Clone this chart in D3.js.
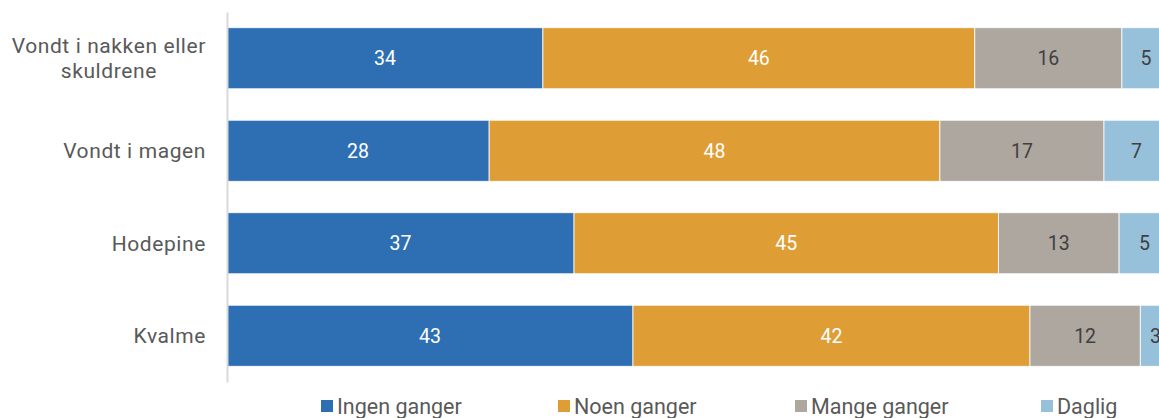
<!DOCTYPE html>
<html><head><meta charset="utf-8">
<script src="https://cdn.jsdelivr.net/npm/d3@7"></script>
<style>
html,body{margin:0;padding:0;background:#fff;overflow:hidden}
svg{display:block}
</style></head>
<body>
<svg id="chart" width="1159" height="418"></svg>
<script>
const categories = ["Vondt i nakken eller skuldrene", "Vondt i magen", "Hodepine", "Kvalme"];
const categoryLines = [["Vondt i nakken eller", "skuldrene"], ["Vondt i magen"], ["Hodepine"], ["Kvalme"]];
const seriesNames = ["Ingen ganger", "Noen ganger", "Mange ganger", "Daglig"];
const ingenGanger = [33.5, 27.8, 36.8, 43.05];
const noenGanger = [45.8, 47.8, 45.0, 42.1];
const mangeGanger = [15.6, 17.4, 12.8, 11.7];
const daglig = [5.1, 6.9, 5.4, 3.2];
const valueLabels = [[34, 46, 16, 5], [28, 48, 17, 7], [37, 45, 13, 5], [43, 42, 12, 3]];
const colors = ["#2e6fb4", "#df9d36", "#ada7a0", "#97c0da"];
const labelColors = ["#ffffff", "#ffffff", "#404040", "#404040"];

const seriesArrays = [ingenGanger, noenGanger, mangeGanger, daglig];
const rows = categories.map((c, i) => {
  const o = {cat: c, idx: i};
  seriesNames.forEach((s, j) => o[s] = seriesArrays[j][i]);
  return o;
});
const stack = d3.stack().keys(seriesNames)(rows);

const svg = d3.select("#chart");
const x = d3.scaleLinear().domain([0, 100]).range([227, 1170]);
const y = d3.scaleBand().domain(categories).range([12, 382]).paddingInner(0.34).paddingOuter(0.17);

const font = "Roboto, 'Noto Sans', sans-serif";

// bars
stack.forEach((layer, j) => {
  const g = svg.append("g");
  g.selectAll("rect").data(layer).join("rect")
    .attr("x", d => x(d[0]))
    .attr("y", d => y(d.data.cat))
    .attr("width", d => x(d[1]) - x(d[0]))
    .attr("height", y.bandwidth())
    .attr("fill", colors[j])
    .attr("stroke", "#ffffff")
    .attr("stroke-width", 0.8);
  g.selectAll("text").data(layer).join("text")
    .attr("x", d => (x(d[0]) + x(d[1])) / 2)
    .attr("y", d => y(d.data.cat) + y.bandwidth() / 2)
    .attr("dy", "0.35em")
    .attr("text-anchor", "middle")
    .attr("font-family", font)
    .attr("font-size", 19.5)
    .attr("fill", labelColors[j])
    .text(d => valueLabels[d.data.idx][j]);
});

// y axis
const yAxis = svg.append("g").attr("transform", "translate(227,0)")
  .call(d3.axisLeft(y).tickSize(0).tickFormat(""));
yAxis.select(".domain").attr("stroke", "#d9d9d9").attr("stroke-width", 2);

const labelRight = 206;
categories.forEach((c, i) => {
  const lines = categoryLines[i];
  const cy = y(c) + y.bandwidth() / 2;
  const lh = 25;
  const t = svg.append("text")
    .attr("text-anchor", "end")
    .attr("font-family", font)
    .attr("font-size", 21)
    .attr("letter-spacing", 0.6)
    .attr("fill", "#595959");
  const spans = lines.map((l, k) => t.append("tspan").attr("x", labelRight)
      .attr("y", cy + (k - (lines.length - 1) / 2) * lh)
      .attr("dy", "0.35em").text(l));
  if (lines.length > 1) {
    const maxW = d3.max(spans, s => s.node().getComputedTextLength());
    t.attr("text-anchor", "middle");
    spans.forEach(s => s.attr("x", labelRight - maxW / 2));
  }
});

// legend
const legendX = [321, 558, 795, 1041];
const lg = svg.append("g");
seriesNames.forEach((s, j) => {
  lg.append("rect").attr("x", legendX[j]).attr("y", 400).attr("width", 12).attr("height", 12).attr("fill", colors[j]);
  lg.append("text").attr("x", legendX[j] + 16).attr("y", 406).attr("dy", "0.35em")
    .attr("font-family", "'Liberation Sans Narrow', Roboto, sans-serif").attr("font-size", 21.5)
    .attr("fill", "#595959").text(s);
});
</script>
</body></html>
